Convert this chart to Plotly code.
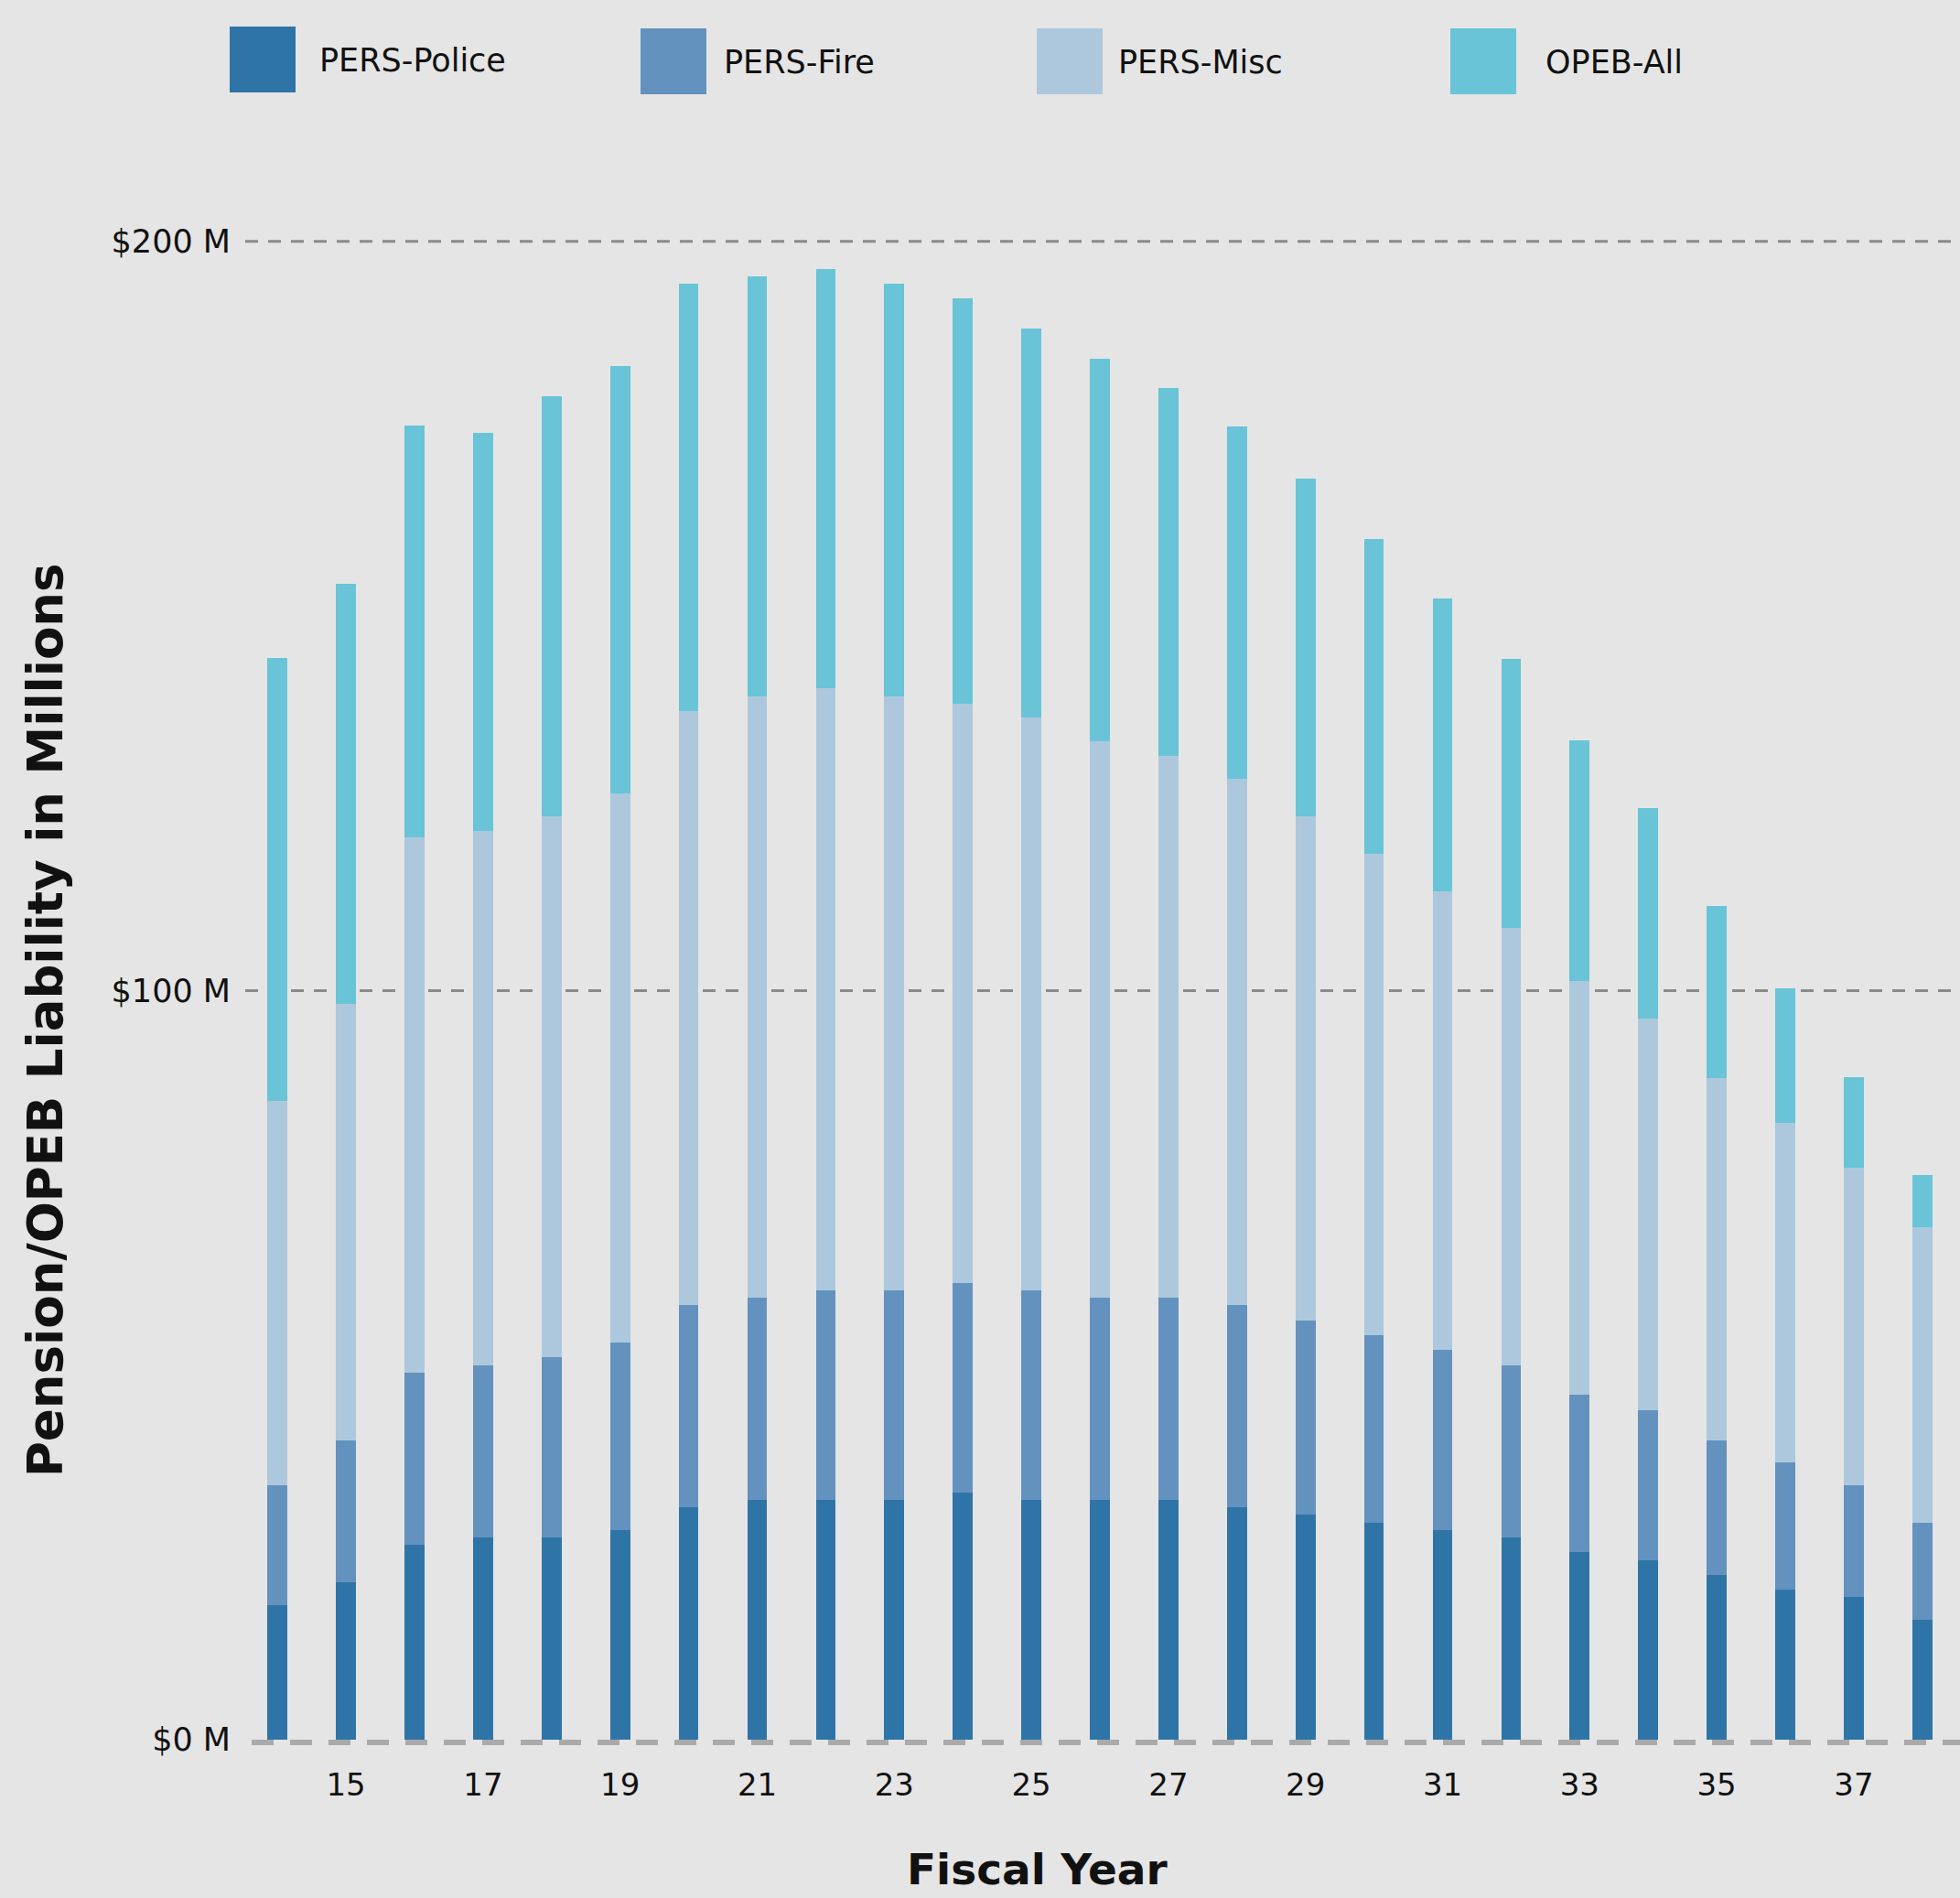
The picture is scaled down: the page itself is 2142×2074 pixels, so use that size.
import plotly.graph_objects as go

# ---------------- data ----------------
years = list(range(14, 39))
pers_police = [18.0, 21.0, 26.0, 27.0, 27.0, 28.0, 31.0, 32.0, 32.0, 32.0, 33.0, 32.0, 32.0,
               32.0, 31.0, 30.0, 29.0, 28.0, 27.0, 25.0, 24.0, 22.0, 20.0, 19.0, 16.0]
pers_fire = [16.0, 19.0, 23.0, 23.0, 24.0, 25.0, 27.0, 27.0, 28.0, 28.0, 28.0, 28.0, 27.0,
             27.0, 27.0, 26.0, 25.0, 24.0, 23.0, 21.0, 20.0, 18.0, 17.0, 15.0, 13.0]
pers_misc = [51.3, 58.2, 71.4, 71.3, 72.3, 73.3, 79.3, 80.3, 80.3, 79.3, 77.3, 76.4, 74.3,
             72.3, 70.3, 67.3, 64.3, 61.3, 58.3, 55.3, 52.3, 48.3, 45.3, 42.3, 39.4]
opeb_all = [59.1, 56.1, 55.0, 53.1, 56.0, 57.1, 57.0, 56.0, 56.0, 55.0, 54.1, 52.0, 51.0,
            49.1, 47.0, 45.0, 42.0, 39.0, 36.0, 32.1, 28.1, 23.0, 18.0, 12.1, 7.0]
series_names = ["PERS-Police", "PERS-Fire", "PERS-Misc", "OPEB-All"]
colors = ["#2f74a6", "#6392be", "#adc8dd", "#68c4d6"]
x_tick_vals = list(range(15, 38, 2))
x_tick_text = [str(v) for v in x_tick_vals]
y_tick_vals = [0, 100, 200]
y_tick_text = ["$0 M", "$100 M", "$200 M"]

# ---------------- layout geometry ----------------
W, H = 2142, 2074
L, R, T, B = 268, 2142, 141, 1904
PW, PH = R - L, B - T


def px(x):
    return (x - L) / PW


def py(y):
    return (B - y) / PH


FONT = "DejaVu Sans"
BG = "#e5e5e5"

fig = go.Figure()
for name, vals, col in zip(series_names, [pers_police, pers_fire, pers_misc, opeb_all], colors):
    fig.add_trace(go.Bar(x=years, y=vals, name=name, marker=dict(color=col, line=dict(width=0)),
                         width=0.29, showlegend=False))

shapes = []
# dashed gridlines at 100 and 200
for v in y_tick_vals[1:]:
    shapes.append(dict(type="line", xref="paper", x0=0, x1=1, yref="y", y0=v, y1=v,
                       line=dict(color="#8a8a8a", width=3, dash="14px,11px"), layer="below"))
# baseline
shapes.append(dict(type="line", xref="paper", x0=px(275), x1=1, yref="paper", y0=0, y1=0,
                   line=dict(color="#aaaaaa", width=6, dash="24px,18px"), layer="below"))

# custom legend (large swatches)
legend_sq_x = [251, 700, 1133, 1585]
legend_sq_y = [29, 31, 31, 31]
legend_txt_x = [347, 789, 1220, 1687]
annotations = []
for i, name in enumerate(series_names):
    shapes.append(dict(type="rect", xref="paper", yref="paper",
                       x0=px(legend_sq_x[i]), x1=px(legend_sq_x[i] + 72),
                       y0=py(legend_sq_y[i] + 72), y1=py(legend_sq_y[i]),
                       fillcolor=colors[i], line=dict(width=0)))
    annotations.append(dict(text=name, xref="paper", yref="paper", x=px(legend_txt_x[i]),
                            y=py(legend_sq_y[i] + 37), xanchor="left", yanchor="middle",
                            showarrow=False, font=dict(family=FONT, size=35, color="#111111")))

# axis titles
annotations.append(dict(text="<b>Fiscal Year</b>", xref="paper", yref="paper", x=px(1134), y=py(2042),
                        xanchor="center", yanchor="middle", showarrow=False,
                        font=dict(family=FONT, size=47, color="#111111")))
annotations.append(dict(text="<b>Pension/OPEB Liability in Millions</b>", xref="paper", yref="paper",
                        x=px(49), y=py(1115), xanchor="center", yanchor="middle", textangle=-90,
                        showarrow=False, font=dict(family=FONT, size=53, color="#111111")))

fig.update_layout(
    width=W, height=H,
    barmode="stack",
    paper_bgcolor=BG, plot_bgcolor="rgba(0,0,0,0)",
    margin=dict(l=L, r=W - R, t=T, b=H - B, pad=0),
    shapes=shapes, annotations=annotations,
    showlegend=False,
    font=dict(family=FONT, color="#111111"),
)
fig.update_xaxes(range=[13.53, 38.55], tickvals=x_tick_vals, ticktext=x_tick_text,
                 showgrid=False, zeroline=False, showline=False,
                 ticks="outside", ticklen=16, tickcolor="rgba(0,0,0,0)",
                 tickfont=dict(family=FONT, size=34, color="#111111"))
fig.update_yaxes(range=[-0.37, 215.0], tickvals=y_tick_vals, ticktext=y_tick_text,
                 showgrid=False, zeroline=False, showline=False,
                 ticks="outside", ticklen=8, tickcolor="rgba(0,0,0,0)",
                 tickfont=dict(family=FONT, size=35, color="#111111"))

fig.write_html("out.html",
               config={"displayModeBar": False},
               post_script="document.body.style.margin='0';document.body.style.padding='0';"
                           "document.body.style.background='" + BG + "';")
